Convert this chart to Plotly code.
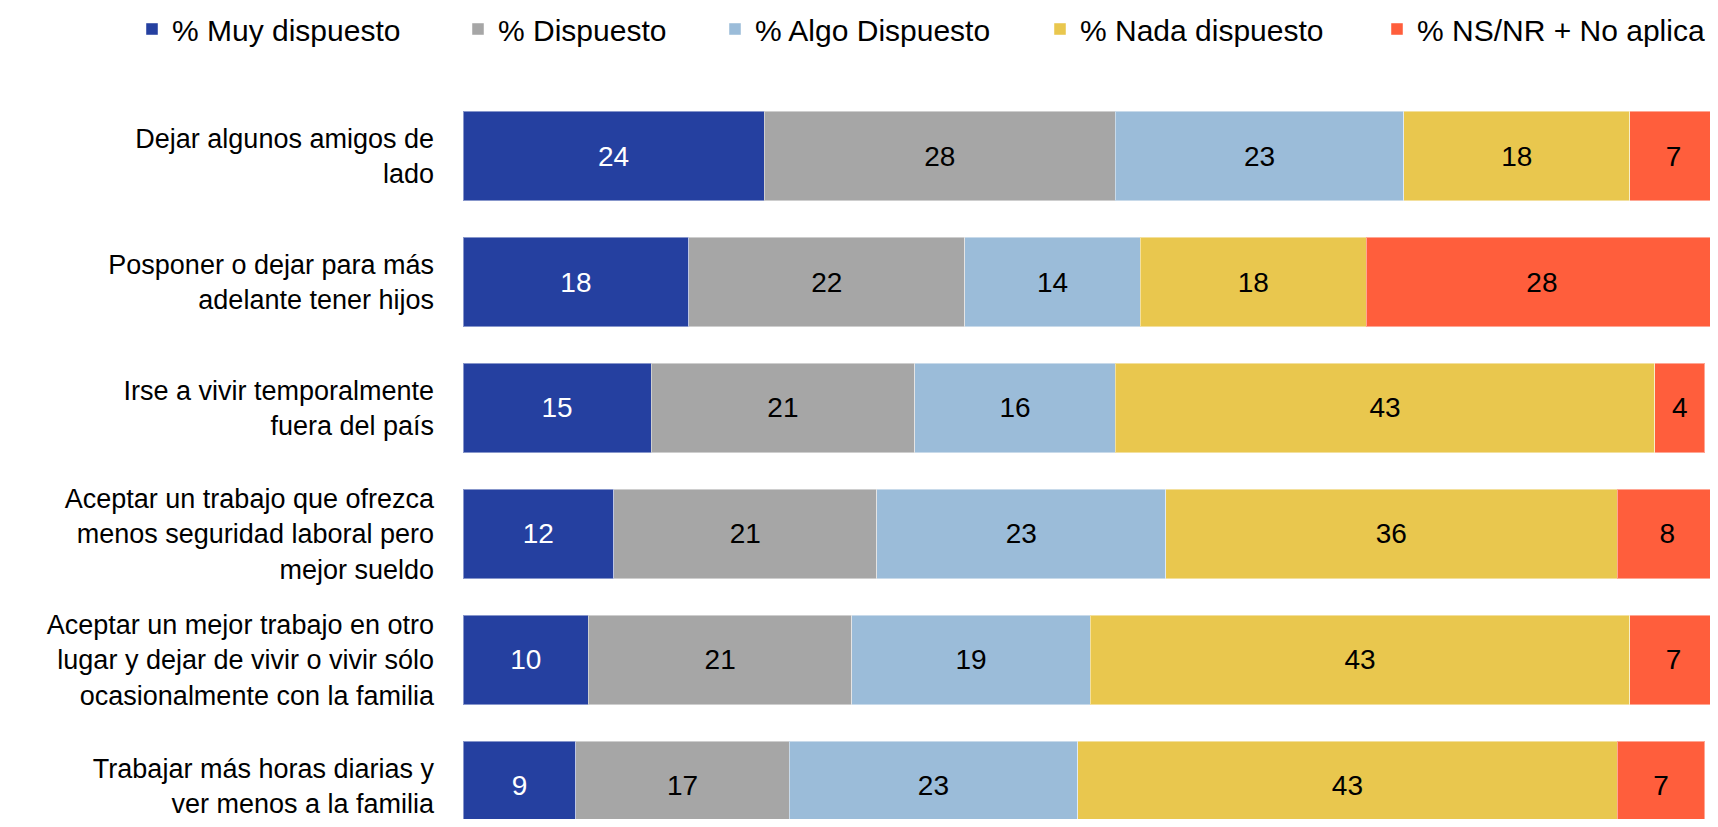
import plotly.graph_objects as go

categorias = [
    "Dejar algunos amigos de<br>lado",
    "Posponer o dejar para más<br>adelante tener hijos",
    "Irse a vivir temporalmente<br>fuera del país",
    "Aceptar un trabajo que ofrezca<br>menos seguridad laboral pero<br>mejor sueldo",
    "Aceptar un mejor trabajo en otro<br>lugar y dejar de vivir o vivir sólo<br>ocasionalmente con la familia",
    "Trabajar más horas diarias y<br>ver menos a la familia",
]

muy_dispuesto = [24, 18, 15, 12, 10, 9]
dispuesto = [28, 22, 21, 21, 21, 17]
algo_dispuesto = [23, 14, 16, 23, 19, 23]
nada_dispuesto = [18, 18, 43, 36, 43, 43]
ns_nr = [7, 28, 4, 8, 7, 7]

series = [
    ("% Muy dispuesto", muy_dispuesto, "#2540A0", "white"),
    ("% Dispuesto", dispuesto, "#A6A6A6", "black"),
    ("% Algo Dispuesto", algo_dispuesto, "#9BBCD9", "black"),
    ("% Nada dispuesto", nada_dispuesto, "#E9C74E", "black"),
    ("% NS/NR + No aplica", ns_nr, "#FF5E3C", "black"),
]

FONT = "Liberation Sans, Arial, sans-serif"

# la pagina tiene 8px de margen en el body: la figura ocupa 1702x811
W, H = 1702, 811
M_LEFT, M_TOP = 455, 85

# inicio (px) de cada entrada de la leyenda, una leyenda por serie
legend_x = [124, 450, 707, 1032, 1369]

fig = go.Figure()
for i, (nombre, valores, color, color_txt) in enumerate(series):
    fig.add_trace(go.Bar(
        y=categorias, x=valores, name=nombre, orientation="h",
        legend="legend" if i == 0 else f"legend{i + 1}",
        marker=dict(color=color, line=dict(color="rgba(255,255,255,0.45)", width=1)),
        text=valores, textposition="inside", insidetextanchor="middle",
        textangle=0, constraintext="none",
        textfont=dict(family=FONT, size=28, color=color_txt),
    ))

leyendas = {}
for i, px_x in enumerate(legend_x):
    key = "legend" if i == 0 else f"legend{i + 1}"
    leyendas[key] = dict(
        orientation="h", xref="paper", yref="paper",
        x=(px_x - M_LEFT) / (W - M_LEFT), y=1 + (M_TOP - 21) / (H - M_TOP),
        xanchor="left", yanchor="middle",
        font=dict(family=FONT, size=30, color="black"),
        bgcolor="rgba(0,0,0,0)",
    )

fig.update_layout(
    width=W, height=H,
    barmode="stack", bargap=0.286,
    plot_bgcolor="white", paper_bgcolor="white",
    margin=dict(l=M_LEFT, r=0, t=M_TOP, b=0, autoexpand=False),
    font=dict(family=FONT, size=27, color="black"),
    showlegend=True,
    **leyendas,
)

fig.update_xaxes(range=[0, 99.4], visible=False, fixedrange=True)
fig.update_yaxes(
    range=[5.262, -0.5], showgrid=False, zeroline=False, showline=False,
    ticks="", ticklabelstandoff=28,
    tickfont=dict(family=FONT, size=27, color="black"),
)

fig.write_html("out.html")
